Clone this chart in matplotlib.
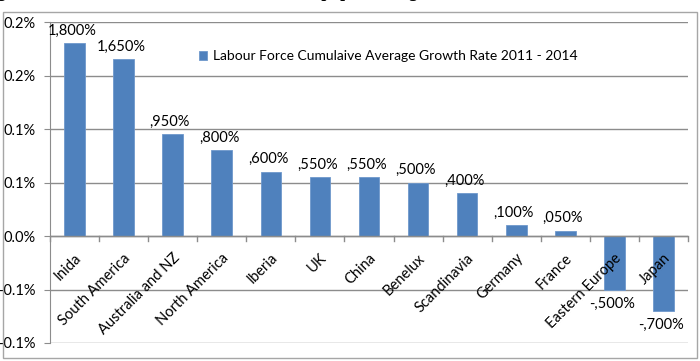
import matplotlib
matplotlib.use('Agg')
import matplotlib.pyplot as plt
from matplotlib.patches import Rectangle
import numpy as np

plt.rcParams['font.family'] = 'Lato'

regions = ['Inida', 'South America', 'Australia and NZ', 'North America', 'Iberia', 'UK',
           'China', 'Benelux', 'Scandinavia', 'Germany', 'France', 'Eastern Europe', 'Japan']
growth = [0.18, 0.165, 0.095, 0.08, 0.06, 0.055, 0.055, 0.05, 0.04, 0.01, 0.005, -0.05, -0.07]
value_labels = ['1,800%', '1,650%', ',950%', ',800%', ',600%', ',550%', ',550%', ',500%',
                ',400%', ',100%', ',050%', '-,500%', '-,700%']
yticks = [-0.10, -0.05, 0.0, 0.05, 0.10, 0.15, 0.20]
ytick_labels = ['-0.1%', '-0.1%', '0.0%', '0.1%', '0.1%', '0.2%', '0.2%']
series_name = 'Labour Force Cumulaive Average Growth Rate 2011 - 2014'

bar_color = '#4F81BD'
grid_color = '#8c8c8c'

fig = plt.figure(figsize=(7, 3.61), dpi=100)
fig.patch.set_facecolor('white')

# chart border (like the Excel chart area)
fig.patches.append(Rectangle((3/700, 3/361), 694/700, 346/361, transform=fig.transFigure,
                             fill=False, edgecolor='#a6a6a6', linewidth=1.0))

# cut-off heading above the chart, only the descenders show
fig.text(-0.004, 1 + 3/361, 'gure 3: Labour Force Cumulative Rate vs population growth',
         family='Liberation Serif', fontweight='bold', fontsize=13, va='baseline', ha='left')

ax = fig.add_axes([50/700, 1 - 343/361, 638/700, 321/361])
x = np.arange(len(regions))
bars = ax.bar(x, growth, width=0.42, color=bar_color, edgecolor='#6f98cc', linewidth=0.6,
              label=series_name, zorder=3)

ax.set_xlim(-0.5, len(regions) - 0.5)
ax.set_ylim(-0.10, 0.20)
ax.set_yticks(yticks)
ax.set_yticklabels(ytick_labels, fontsize=10.5)
ax.yaxis.grid(True, color=grid_color, linewidth=1.0, zorder=0)
ax.tick_params(axis='y', length=4, color=grid_color, pad=6)

for s in ['top', 'right', 'bottom']:
    ax.spines[s].set_visible(False)
ax.spines['left'].set_color(grid_color)

# zero line with category boundary ticks
ax.axhline(0, color=grid_color, linewidth=1.0, zorder=4)
ax.set_xticks(np.arange(-0.5, len(regions), 1.0))
ax.set_xticklabels([])
ax.tick_params(axis='x', which='major', length=0)
for b in np.arange(-0.5, len(regions), 1.0):
    ax.plot([b, b], [0, -0.005], color=grid_color, linewidth=1.0, zorder=4, clip_on=False)

# category labels hanging from the zero line
for xi, name in zip(x, regions):
    ax.text(xi + 0.0, -0.014, name, rotation=45, rotation_mode='anchor',
            ha='right', va='top', fontsize=10.5, zorder=5)

for xi, v, lab in zip(x, growth, value_labels):
    if v >= 0:
        ax.annotate(lab, (xi, v), xytext=(-2, 4), textcoords='offset points',
                    ha='center', va='bottom', fontsize=10.5)
    else:
        ax.annotate(lab, (xi, v), xytext=(-2, -5), textcoords='offset points',
                    ha='center', va='top', fontsize=10.5)

leg = ax.legend(loc='upper left', bbox_to_anchor=(0.225, 0.93), frameon=False,
                fontsize=10, handlelength=0.6, handleheight=0.6, handletextpad=0.4,
                borderaxespad=0)

fig.savefig('out.png', dpi=100)
